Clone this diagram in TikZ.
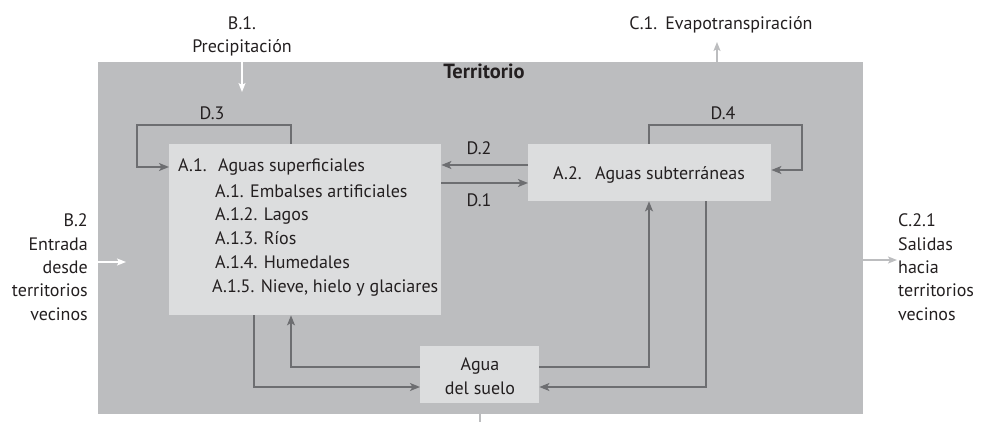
\documentclass[tikz,border=0pt]{standalone}
\usepackage{fontspec}
\setmainfont{PT Sans}
\usetikzlibrary{arrows.meta}
\definecolor{bggray}{HTML}{BCBDBF}
\definecolor{boxgray}{HTML}{DCDDDE}
\definecolor{linegray}{HTML}{6D6E71}
\definecolor{txt}{HTML}{231F20}
\tikzset{
  lbl/.style={text=txt, font=\fontsize{18}{23.3}\selectfont, inner sep=0pt},
  flow/.style={draw=linegray, line width=1.5pt, -{Stealth[length=10pt,width=8pt,inset=2.5pt]}},
  whitearrow/.style={draw=white, line width=1.5pt, -{Stealth[length=9pt,width=7pt,inset=2pt]}},
  lightarrow/.style={draw=bggray, line width=1.5pt, -{Stealth[length=9pt,width=7pt,inset=2pt]}},
  boxnode/.style={fill=boxgray, draw=none, anchor=north west, inner sep=0pt},
}
\begin{document}
\begin{tikzpicture}[x=1pt,y=-1pt]
\useasboundingbox (0,0) rectangle (982,422);
% territory
\node[fill=bggray, anchor=north west, inner sep=0pt, minimum width=765pt, minimum height=352pt] (terr) at (98,62) {};
\node[lbl, font=\bfseries\fontsize{20.5}{23}\selectfont, anchor=base] (title) at (484,79) {Territorio};
% boxes
\node[boxnode, minimum width=272pt, minimum height=171pt] (a1) at (169,144) {};
\node[boxnode, minimum width=243pt, minimum height=57pt] (a2) at (528,144) {};
\node[boxnode, minimum width=119pt, minimum height=57pt] (suelo) at (420,346) {};
% box texts
\node[lbl, anchor=base west] (a1t) at (178,172) {\makebox[40pt][l]{A.1.}Aguas superficiales};
\node[lbl, anchor=base west] (a11) at (215,197) {A.1. Embalses artificiales};
\node[lbl, anchor=base west] (a12) at (215,221) {A.1.2. Lagos};
\node[lbl, anchor=base west] (a13) at (215,244) {A.1.3. Ríos};
\node[lbl, anchor=base west] (a14) at (215,268) {A.1.4. Humedales};
\node[lbl, anchor=base west] (a15) at (212,292) {A.1.5. Nieve, hielo y glaciares};
\node[lbl, anchor=base west] (a2t) at (553,180) {\makebox[42pt][l]{A.2.}Aguas subterráneas};
\node[lbl, anchor=base] (s1) at (480,370) {Agua};
\node[lbl, anchor=base] (s2) at (480,394) {del suelo};
% outside labels
\node[lbl, anchor=base] (b1a) at (242,30) {B.1.};
\node[lbl, anchor=base] (b1b) at (242,53) {Precipitación};
\node[lbl, anchor=base] (c1) at (721,30) {C.1.\hspace{8pt}Evapotranspiración};
\node[lbl, anchor=base east, align=right] (b2) at (88,320) {B.2\\Entrada\\desde\\territorios\\vecinos};
\node[lbl, anchor=base west, align=left] (c21) at (898,320) {C.2.1\\Salidas\\hacia\\territorios\\vecinos};
% connector labels
\node[lbl, anchor=base] (d1) at (479,207) {D.1};
\node[lbl, anchor=base] (d2) at (479,155) {D.2};
\node[lbl, anchor=base] (d3) at (212,120) {D.3};
\node[lbl, anchor=base] (d4) at (723,120) {D.4};
% free-end coordinates
\coordinate (b1end) at (242,92);
\coordinate (c1end) at (717,42);
\coordinate (b2end) at (126,262);
\coordinate (c21end) at (897,260);
\coordinate (stubend) at (480,422);
% in/out arrows
\draw[whitearrow] (b1end |- terr.north) -- (b1end);
\draw[lightarrow] (c1end |- terr.north) -- (c1end);
\draw[whitearrow] (terr.west |- b2end) -- (b2end);
\draw[lightarrow] (terr.east |- c21end) -- (c21end);
\draw[draw=bggray, line width=1.5pt] (stubend |- terr.south) -- (stubend);
% D.1 / D.2
\draw[flow] (a1.east |- 0,183) -- (a2.west |- 0,183);
\draw[flow] (a2.west |- 0,165) -- (a1.east |- 0,165);
% D.3 loop
\coordinate (d3s) at (291,144);
\draw[flow] (d3s) -- (291,125) -- (137,125) -- (137,167) -- (a1.west |- 0,167);
% D.4 loop
\coordinate (d4s) at (649,144);
\draw[flow] (d4s) -- (649,125) -- (802,125) -- (802,170) -- (a2.east |- 0,170);
% soil connections
\draw[flow] (254,0 |- a1.south) -- (254,387) -- (suelo.west |- 0,387);
\draw[flow] (suelo.west |- 0,367) -- (291,367) -- (291,0 |- a1.south);
\draw[flow] (suelo.east |- 0,367) -- (649,367) -- (649,0 |- a2.south);
\draw[flow] (706,0 |- a2.south) -- (706,387) -- (suelo.east |- 0,387);
\end{tikzpicture}
\end{document}
